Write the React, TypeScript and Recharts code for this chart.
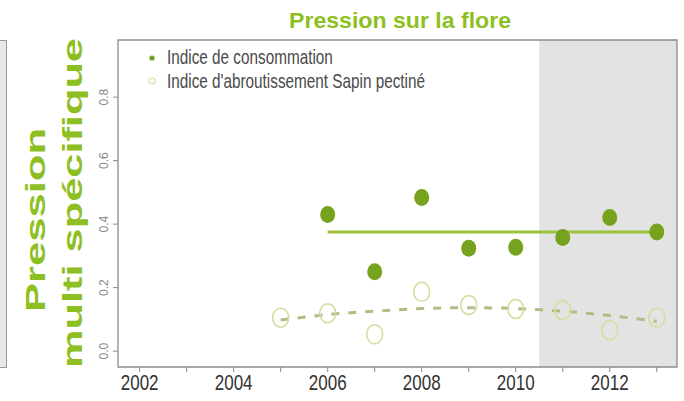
import {
  ComposedChart,
  XAxis,
  YAxis,
  Scatter,
  Line,
  ReferenceArea,
  Customized,
} from "recharts";

// Indice de consommation (points pleins) + tendance
const CONSO_YEARS = [2006, 2007, 2008, 2009, 2010, 2011, 2012, 2013];
const CONSO_VALUES = [0.43, 0.25, 0.484, 0.324, 0.327, 0.358, 0.421, 0.375];
const CONSO_TREND_YEARS = [2006, 2013];
const CONSO_TREND_VALUES = [0.375, 0.375];

// Indice d'abroutissement Sapin pectiné (cercles vides) + tendance
const ABROUT_YEARS = [2005, 2006, 2007, 2008, 2009, 2010, 2011, 2012, 2013];
const ABROUT_VALUES = [0.105, 0.119, 0.053, 0.187, 0.145, 0.133, 0.129, 0.066, 0.105];
const ABROUT_TREND_VALUES = [0.098, 0.115, 0.126, 0.134, 0.137, 0.134, 0.126, 0.112, 0.094];

const X_TICKS = [2002, 2003, 2004, 2005, 2006, 2007, 2008, 2009, 2010, 2011, 2012, 2013];
const Y_TICKS = [0, 0.2, 0.4, 0.6, 0.8];
const X_DOMAIN: [number, number] = [2001.54, 2013.43];
const Y_DOMAIN: [number, number] = [-0.05, 0.98];
const SHADE_START = 2010.5;

const TITLE = "Pression sur la flore";
const Y_LABEL = ["Pression", "multi spécifique"];
const LEGEND_LABELS = ["Indice de consommation", "Indice d'abroutissement Sapin pectiné"];

const GREEN = "#77a21e";
const LINE_GREEN = "#9cc33a";
const PALE = "#d5de9e";
const DASH = "#b0bd84";
const TITLE_GREEN = "#8dbf22";
const FONT = "'Liberation Sans', Arial, sans-serif";

const toPoints = (years: number[], values: number[]) =>
  years.map((year, i) => ({ year, value: values[i] }));

const consoData = toPoints(CONSO_YEARS, CONSO_VALUES);
const consoTrend = toPoints(CONSO_TREND_YEARS, CONSO_TREND_VALUES);
const abroutData = toPoints(ABROUT_YEARS, ABROUT_VALUES);
const abroutTrend = toPoints(ABROUT_YEARS, ABROUT_TREND_VALUES);

const XTick = (props: any) => {
  const { x, y, payload } = props;
  if (payload.value % 2 !== 0) return <g />;
  return (
    <text
      transform={`translate(${x},${y}) scale(1,1.25)`}
      y={13}
      textAnchor="middle"
      fontSize={17}
      fontFamily={FONT}
      fill="#333"
    >
      {payload.value}
    </text>
  );
};

const YTick = (props: any) => {
  const { x, y, payload } = props;
  const tx = x - 3;
  return (
    <text
      x={tx}
      y={y}
      transform={`rotate(-90 ${tx} ${y})`}
      textAnchor="middle"
      fontSize={12}
      fontFamily={FONT}
      fill="#8a8a8a"
    >
      {payload.value.toFixed(1)}
    </text>
  );
};

const Filled = (props: any) => (
  <ellipse cx={props.cx} cy={props.cy} rx={7.5} ry={8.5} fill={GREEN} />
);

const Hollow = (props: any) => (
  <ellipse cx={props.cx} cy={props.cy} rx={8} ry={9.5} fill="none" stroke={PALE} strokeWidth={1.6} />
);

const Texts = () => (
  <g fontFamily={FONT} fontWeight="bold">
    <text x={400} y={28} textAnchor="middle" fontSize={22} fill={TITLE_GREEN} textLength={222} lengthAdjust="spacingAndGlyphs">
      {TITLE}
    </text>
    <text x={45} y={220} transform="rotate(-90 45 220)" textAnchor="middle" fontSize={27} fill={TITLE_GREEN} textLength={184} lengthAdjust="spacingAndGlyphs">
      {Y_LABEL[0]}
    </text>
    <text x={82} y={203} transform="rotate(-90 82 203)" textAnchor="middle" fontSize={27} fill={TITLE_GREEN} textLength={330} lengthAdjust="spacingAndGlyphs">
      {Y_LABEL[1]}
    </text>
  </g>
);

const LegendBox = () => (
  <div style={{ position: "absolute", left: 145, top: 46, fontFamily: FONT, fontSize: 15.3, color: "#4a4a4a" }}>
    {LEGEND_LABELS.map((label, i) => (
      <div key={label} style={{ display: "flex", alignItems: "center", height: 23 }}>
        <svg width={22} height={10} style={{ flex: "none" }}>
          {i === 0 ? (
            <circle cx={7} cy={5} r={2.6} fill={GREEN} />
          ) : (
            <circle cx={7} cy={5} r={3} fill="none" stroke={PALE} strokeWidth={1.2} />
          )}
        </svg>
        <span style={{ display: "inline-block", transform: "scaleY(1.3)", whiteSpace: "nowrap" }}>{label}</span>
      </div>
    ))}
  </div>
);

export default function App() {
  return (
    <div style={{ position: "relative", width: 684, height: 401, background: "#fff", overflow: "hidden" }}>
      <style>{"body{margin:0}"}</style>
      {/* bord du panneau voisin */}
      <div
        style={{
          position: "absolute",
          left: 0,
          top: 40,
          width: 6,
          height: 326,
          background: "#e8e8e8",
          border: "1px solid #9a9a9a",
          borderLeft: "none",
        }}
      />
      <ComposedChart width={684} height={401} margin={{ top: 40, right: 7, bottom: 3, left: 0 }}>
        <ReferenceArea
          x1={SHADE_START}
          x2={X_DOMAIN[1]}
          y1={Y_DOMAIN[0]}
          y2={Y_DOMAIN[1]}
          fill="#e3e3e3"
          fillOpacity={1}
          stroke="none"
        />
        <XAxis
          type="number"
          dataKey="year"
          domain={X_DOMAIN}
          allowDataOverflow
          ticks={X_TICKS}
          interval={0}
          height={31}
          tickSize={5}
          tickLine={{ stroke: "#888" }}
          axisLine={false}
          tick={<XTick />}
        />
        <YAxis
          type="number"
          dataKey="value"
          domain={Y_DOMAIN}
          allowDataOverflow
          ticks={Y_TICKS}
          width={118}
          tickSize={5}
          tickLine={{ stroke: "#888" }}
          axisLine={false}
          tick={<YTick />}
        />
        <Line
          data={abroutTrend}
          dataKey="value"
          type="monotone"
          stroke={DASH}
          strokeWidth={3}
          strokeDasharray="8 9"
          dot={false}
          activeDot={false}
          isAnimationActive={false}
        />
        <Line
          data={consoTrend}
          dataKey="value"
          type="linear"
          stroke={LINE_GREEN}
          strokeWidth={3}
          dot={false}
          activeDot={false}
          isAnimationActive={false}
        />
        <Scatter data={abroutData} dataKey="value" shape={<Hollow />} isAnimationActive={false} />
        <Scatter data={consoData} dataKey="value" shape={<Filled />} isAnimationActive={false} />
        <ReferenceArea
          x1={X_DOMAIN[0]}
          x2={X_DOMAIN[1]}
          y1={Y_DOMAIN[0]}
          y2={Y_DOMAIN[1]}
          fill="none"
          stroke="#8c8c8c"
          strokeWidth={1.3}
        />
        <Customized component={<Texts />} />
      </ComposedChart>
      <LegendBox />
    </div>
  );
}
